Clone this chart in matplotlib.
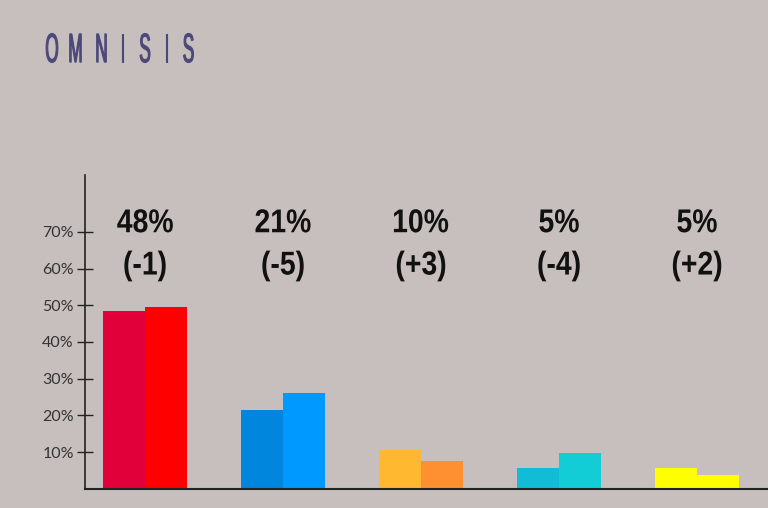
import matplotlib
matplotlib.use('Agg')
import matplotlib.pyplot as plt
import numpy as np
from matplotlib.textpath import TextPath
from matplotlib.patches import PathPatch
from matplotlib.font_manager import FontProperties
from matplotlib.transforms import Affine2D, IdentityTransform

# values
groups = [0, 1, 2, 3, 4]
prev_vals = [48.5, 21.4, 10.6, 5.7, 5.7]
curr_vals = [49.5, 26.2, 7.6, 9.6, 3.8]
prev_colors = ['#e1003a', '#0087dd', '#ffb82f', '#13bcd6', '#ffff00']
curr_colors = ['#ff0000', '#0099ff', '#ff9032', '#13cdd6', '#ffff00']
pct_labels = ['48%', '21%', '10%', '5%', '5%']
change_labels = ['(-1)', '(-5)', '(+3)', '(-4)', '(+2)']
yticks = [10, 20, 30, 40, 50, 60, 70]
ytick_labels = ['10%', '20%', '30%', '40%', '50%', '60%', '70%']
title_letters = ['O', 'M', 'N', 'I', 'S', 'I', 'S']

bg = '#c6bfbd'
W, H = 768, 508

fig = plt.figure(figsize=(W / 100, H / 100), dpi=100, facecolor=bg)
ax = fig.add_axes([85 / W, 19.3 / H, 683 / W, 313.7 / H])
ax.set_facecolor(bg)


def squeezed(fig, xp, yp, s, size, sx, prop, color, lw=0):
    # text drawn as a path, squeezed sideways to look like a condensed face
    tp = TextPath((0, 0), s, size=size, prop=prop)
    bb = tp.get_extents()
    tr = (Affine2D().translate(-(bb.x0 + bb.x1) / 2, -(bb.y0 + bb.y1) / 2)
          .scale(sx, 1).translate(xp, yp))
    fig.add_artist(PathPatch(tr.transform_path(tp), transform=IdentityTransform(),
                             facecolor=color, edgecolor=color, lw=lw))


x = np.array(groups)
w = 0.304
ax.bar(x - w / 2, prev_vals, width=w, color=prev_colors, linewidth=0)
ax.bar(x + w / 2, curr_vals, width=w, color=curr_colors, linewidth=0)

ax.set_xlim(-0.435, 4.514)
ax.set_ylim(0, 85.5)
ax.set_xticks([])
ax.set_yticks(yticks)
ax.set_yticklabels(ytick_labels, family=['Lato', 'DejaVu Sans'],
                   fontsize=11.5, color='#333333')
ax.tick_params(axis='y', direction='inout', length=12, width=1,
               color='#222222', pad=2)
for s in ['top', 'right']:
    ax.spines[s].set_visible(False)
ax.spines['left'].set_color('#222222')
ax.spines['bottom'].set_color('#222222')
ax.spines['left'].set_linewidth(1.2)
ax.spines['bottom'].set_linewidth(1.5)

bold = FontProperties(family='Liberation Sans', weight='bold')
regular = FontProperties(family='Liberation Sans')
for xi, p, c in zip(x, pct_labels, change_labels):
    px, py = ax.transData.transform((xi, 73))
    squeezed(fig, px, py, p, 33, 0.86, bold, '#111111')
    px, py = ax.transData.transform((xi, 60.7))
    squeezed(fig, px, py, c, 33, 0.86, bold, '#111111')

# title, letter by letter (condensed, spaced out)
title_x = [52, 75.5, 101.5, 122.5, 145, 166.5, 188.5]
for lx, ch in zip(title_x, title_letters):
    squeezed(fig, lx, H - 48, ch, 41, 0.42, regular, '#4c4878', lw=0.8)

fig.savefig('out.png', dpi=100, facecolor=bg)
